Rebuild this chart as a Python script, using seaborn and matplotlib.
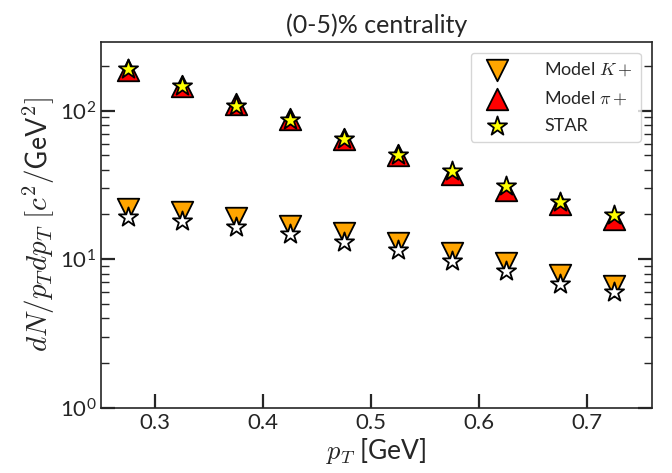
import matplotlib
matplotlib.use("Agg")
import matplotlib.pyplot as plt
import seaborn as sns
import numpy as np
import pandas as pd

# ---- data ----
pt = [0.275, 0.325, 0.375, 0.425, 0.475, 0.525, 0.575, 0.625, 0.675, 0.725]
model_kaon = [21.8, 20.7, 18.9, 16.8, 15.0, 12.8, 11.0, 9.5, 7.8, 6.6]
star_kaon = [19.1, 18.1, 16.6, 14.8, 13.0, 11.5, 9.8, 8.3, 6.8, 6.0]
model_pion = [188, 147, 111, 87, 64, 50, 37.5, 29, 23.5, 18.7]
star_pion = [190, 145, 108, 86, 64.5, 50.5, 39, 31, 24.2, 19.9]

title = "(0-5)% centrality"
xlabel = r"$p_T$ [GeV]"
ylabel = r"$dN/p_Tdp_T\ [c^2/\mathsf{GeV}^2]$"
xticks = [0.3, 0.4, 0.5, 0.6, 0.7]

sns.set_style("ticks")
plt.rcParams["font.family"] = ["Lato", "DejaVu Sans"]
plt.rcParams["mathtext.fontset"] = "cm"

fig, ax = plt.subplots(figsize=(6.72, 4.73), dpi=100)
fig.subplots_adjust(left=0.1503, right=0.970, top=0.9118, bottom=0.1374)

tri_s = 240
star_s = 210
sns.scatterplot(x=pt, y=model_kaon, marker="v", s=tri_s, color="#FFA500",
                edgecolor="black", linewidth=1.3, label="Model $K+$", ax=ax, zorder=3)
sns.scatterplot(x=pt, y=model_pion, marker="^", s=tri_s, color="red",
                edgecolor="black", linewidth=1.3, label=r"Model $\pi+$", ax=ax, zorder=3)
sns.scatterplot(x=pt, y=star_pion, marker="*", s=star_s, color="yellow",
                edgecolor="black", linewidth=1.3, label="STAR", ax=ax, zorder=4)
sns.scatterplot(x=pt, y=star_kaon, marker="*", s=star_s, color="white",
                edgecolor="black", linewidth=1.3, ax=ax, zorder=4)

ax.set_yscale("log")
ax.set_xlim(0.25, 0.76)
ax.set_ylim(1, 290)
ax.set_xticks(xticks)
ax.set_xticklabels([f"{v:.1f}" for v in xticks])

ax.tick_params(axis="both", which="major", direction="in", length=10, width=1.6,
               labelsize=16, right=True, top=False)
ax.tick_params(axis="y", which="minor", direction="in", length=6, width=1.0,
               right=True)
ax.tick_params(axis="x", which="minor", bottom=False, top=False)
for sp in ax.spines.values():
    sp.set_linewidth(1.2)

ax.set_title(title, fontsize=18, pad=6)
ax.set_xlabel(xlabel, fontsize=19, labelpad=2)
ax.set_ylabel(ylabel, fontsize=21, labelpad=2)

leg = ax.legend(loc="upper right", fontsize=13, frameon=True, fancybox=True,
                handletextpad=1.6, borderpad=0.45, labelspacing=0.6,
                borderaxespad=0.6)
leg.get_frame().set_edgecolor("#cccccc")

fig.savefig("out.png", dpi=100)
